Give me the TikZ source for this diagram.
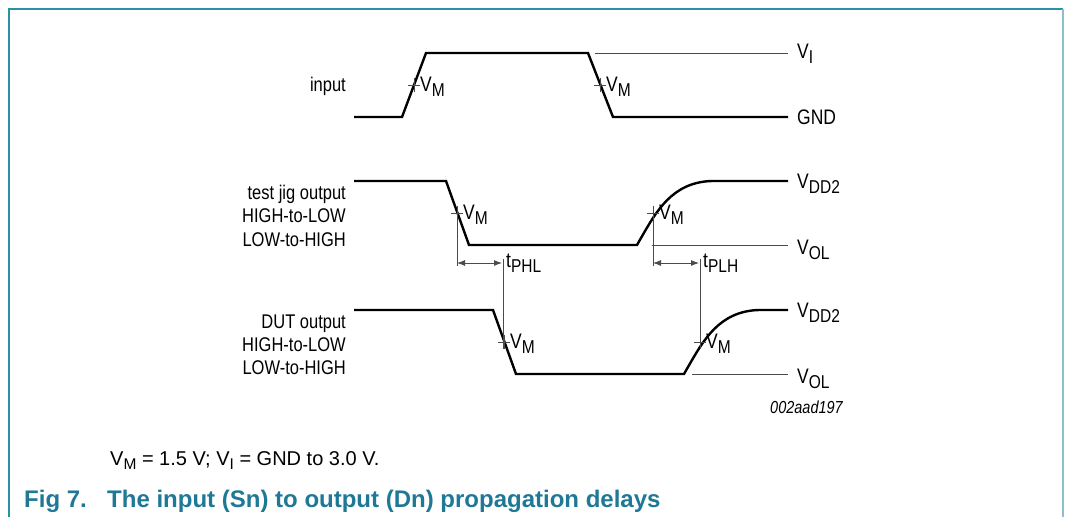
\documentclass[tikz,border=0pt]{standalone}
\usepackage{fontspec}
\usepackage{graphicx}
\setmainfont{Liberation Sans}
\usetikzlibrary{arrows.meta}
\definecolor{frameteal}{RGB}{45,145,165}
\definecolor{framelight}{RGB}{140,192,205}
\definecolor{capteal}{RGB}{30,120,150}
\definecolor{thingray}{RGB}{75,75,75}
\newcommand{\lsb}[1]{\raisebox{-4.3pt}{\fontsize{15.5}{16}\selectfont #1}}
\newcommand{\st}[1]{\scalebox{1}[1.2]{#1}}
\begin{document}
\begin{tikzpicture}[x=1pt,y=-1pt,
  wave/.style={line width=2.4pt, line join=miter},
  thinln/.style={line width=0.9pt, draw=thingray},
  lbl/.style={font=\fontsize{16.5}{19}\selectfont, inner sep=0pt, anchor=base west},
  vlbl/.style={font=\fontsize{17.5}{19}\selectfont, inner sep=0pt, anchor=base west},
  lblr/.style={font=\fontsize{16.5}{19}\selectfont, inner sep=0pt, anchor=base east},
  dimarrow/.style={line width=0.9pt, draw=thingray, {Latex[length=8pt,width=6pt]}-{Latex[length=8pt,width=6pt]}},
  vmcross/.pic={\draw[thinln] (-6,0) -- (6,0) (0,-7) -- (0,7);}
]
\useasboundingbox (0,0) rectangle (1066,517);
% frame
\draw[frameteal, line width=1.6pt] (9,517) -- (9,9) -- (1063,9);
\draw[framelight, line width=1.6pt] (1063,9) -- (1063,517);

% ---------- input ----------
\draw[wave] (354,117) -- (402,117) -- (426,53) -- (588,53) -- (613,117) -- (788,117);
\draw[thinln] (595,53) -- (788,53);
\pic at (414,85) {vmcross};
\pic at (600,85) {vmcross};
\node[vlbl] (vmi1) at (420,91) {\st{V\lsb{M}}};
\node[vlbl] (vmi2) at (606,91) {\st{V\lsb{M}}};
\node[vlbl] (vi) at (797,58) {\st{V\lsb{I}}};
\node[vlbl] (gnd) at (797,124) {\st{GND}};
\node[lblr] (inlbl) at (346,91) {\st{input}};

% ---------- test jig output ----------
\draw[wave] (354,181) -- (446,181) -- (469,245) -- (637,245) -- (641,238)
  .. controls (656,212) and (672,182) .. (712,181) -- (788,181);
\draw[thinln] (652,245) -- (788,245);
\pic at (457,213) {vmcross};
\pic at (653,213) {vmcross};
\node[vlbl] (vmj1) at (463,219) {\st{V\lsb{M}}};
\node[vlbl] (vmj2) at (659,219) {\st{V\lsb{M}}};
\node[vlbl] (vdd1) at (797,188) {\st{V\lsb{DD2}}};
\node[vlbl] (vol1) at (797,254) {\st{V\lsb{OL}}};
\node[lblr] (tj1) at (346,199) {\st{test jig output}};
\node[lblr] (tj2) at (346,222) {\st{HIGH-to-LOW}};
\node[lblr] (tj3) at (346,246) {\st{LOW-to-HIGH}};

% ---------- DUT output ----------
\draw[wave] (354,310) -- (493,310) -- (516,374) -- (684,374) -- (688,367)
  .. controls (703,341) and (719,311) .. (759,310) -- (788,310);
\draw[thinln] (692,374) -- (788,374);
\pic at (504,342) {vmcross};
\pic at (700,342) {vmcross};
\node[vlbl] (vmd1) at (510,348) {\st{V\lsb{M}}};
\node[vlbl] (vmd2) at (706,348) {\st{V\lsb{M}}};
\node[vlbl] (vdd2) at (797,317) {\st{V\lsb{DD2}}};
\node[vlbl] (vol2) at (797,383) {\st{V\lsb{OL}}};
\node[lblr] (du1) at (346,328) {\st{DUT output}};
\node[lblr] (du2) at (346,351) {\st{HIGH-to-LOW}};
\node[lblr] (du3) at (346,374) {\st{LOW-to-HIGH}};

% ---------- delay markers ----------
\coordinate (phlA) at (457,206);
\coordinate (phlAb) at (457,266);
\coordinate (phlB) at (503,259);
\coordinate (phlBb) at (503,349);
\coordinate (plhA) at (653,206);
\coordinate (plhAb) at (653,266);
\coordinate (plhB) at (700,259);
\coordinate (plhBb) at (700,349);
\draw[thinln] (phlA) -- (phlAb);
\draw[thinln] (phlB) -- (phlBb);
\draw[thinln] (plhA) -- (plhAb);
\draw[thinln] (plhB) -- (plhBb);
\coordinate (phlL) at (457,263);
\coordinate (phlR) at (502,263);
\coordinate (plhL) at (653,263);
\coordinate (plhR) at (699,263);
\draw[dimarrow] (phlL) -- (phlR);
\draw[dimarrow] (plhL) -- (plhR);
\node[vlbl] (tphl) at (506,267) {\st{t\lsb{PHL}}};
\node[vlbl] (tplh) at (703,267) {\st{t\lsb{PLH}}};

\node[font=\fontsize{14.5}{17}\selectfont\itshape, inner sep=0pt, anchor=base east] (code) at (843,413) {\st{002aad197}};

% ---------- captions ----------
\node[font=\fontsize{20}{24}\selectfont, inner sep=0pt, anchor=base west] (note) at (110,465) {V\lsb{M} = 1.5 V; V\lsb{I} = GND to 3.0 V.};
\node[font=\fontsize{24}{28}\selectfont\bfseries, text=capteal, inner sep=0pt, anchor=base west] (fig) at (24,507) {Fig 7.};
\node[font=\fontsize{24}{28}\selectfont\bfseries, text=capteal, inner sep=0pt, anchor=base west] (figt) at (107,507) {The input (Sn) to output (Dn) propagation delays};
\end{tikzpicture}
\end{document}
